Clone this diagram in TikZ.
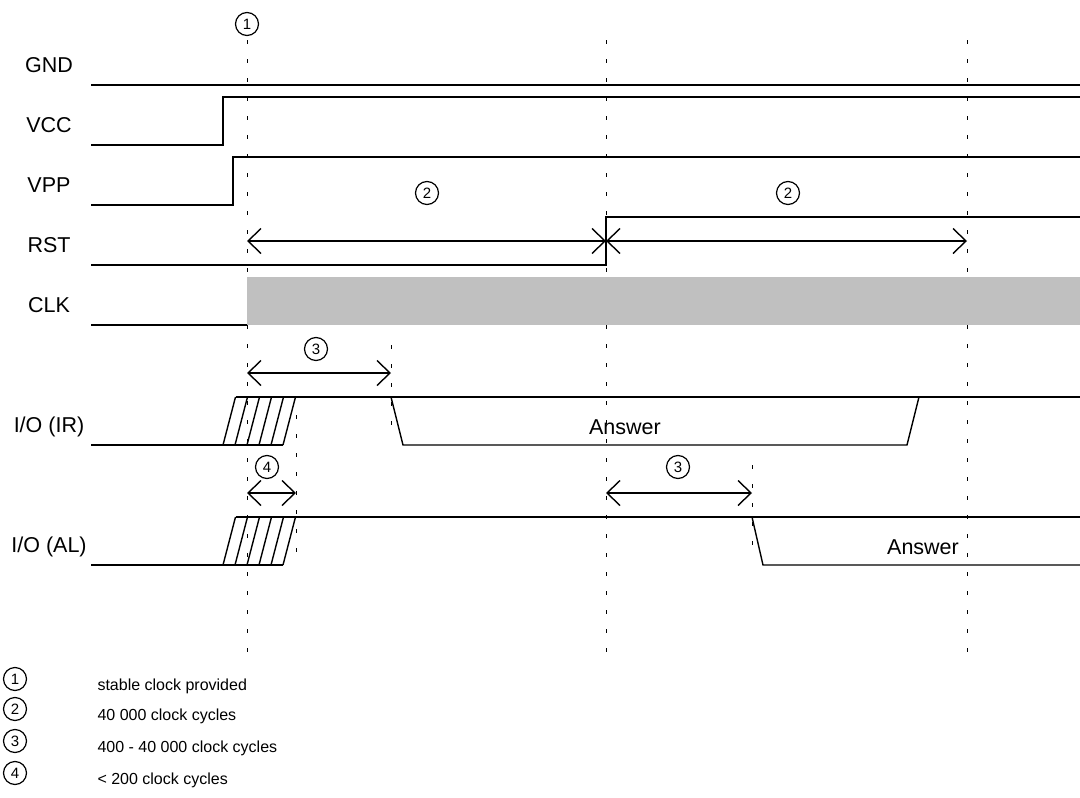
\documentclass[tikz,border=0pt]{standalone}
\usepackage{fontspec}
\setmainfont{Liberation Sans}
\usetikzlibrary{arrows.meta}
\definecolor{clkgray}{RGB}{192,192,192}
\tikzset{
  sig/.style={line width=1.4pt},
  guide/.style={line width=1pt,dash pattern=on 4pt off 15pt},
  span/.style={line width=1.4pt,{Straight Barb[length=13pt,width=25pt]}-{Straight Barb[length=13pt,width=25pt]}},
  lbl/.style={font=\fontsize{21.5}{25}\selectfont},
  num/.style={circle,draw,line width=1.2pt,minimum size=23pt,inner sep=0pt,font=\fontsize{15}{15}\selectfont},
  legtxt/.style={anchor=west,font=\fontsize{16}{20}\selectfont}
}
\begin{document}
\begin{tikzpicture}[x=1pt,y=-1pt]
  \useasboundingbox (0,0) rectangle (1080,798);
  \foreach \ty/\tn/\tk in {65/GND/gnd,125/VCC/vcc,185/VPP/vpp,245/RST/rst,305/CLK/clk,427/{I/O (IR)}/ir,547/{I/O (AL)}/al}
    \node[lbl] (l\tk) at (49,\ty) {\tn};
  \foreach \gx in {247,606,967} \draw[guide] (\gx,40) -- (\gx,655);
  \draw[guide] (391,345) -- (391,432);
  \draw[guide] (296,415) -- (296,556);
  \draw[guide] (752,465) -- (752,552);
  \fill[clkgray] (247,277) rectangle (1080,325);
  \draw[sig] (91,85) -- (1080,85);
  \draw[sig] (91,145) -- (223,145) -- (223,97) -- (1080,97);
  \draw[sig] (91,205) -- (233,205) -- (233,157) -- (1080,157);
  \draw[sig] (91,265) -- (606,265) -- (606,217) -- (1080,217);
  \draw[sig] (91,325) -- (247,325);
  \begin{scope}
    \draw[sig] (91,445) -- (283,445) (235.5,397) -- (1080,397);
    \foreach \k in {0,...,5} \draw[sig] (223+12*\k,445) -- (235.5+12*\k,397);
    \draw[sig] (391,397) -- (403,445) -- (907,445) -- (919,397);
    \node[lbl] (air) at (625,427) {Answer};
  \end{scope}
  \begin{scope}[yshift=-120pt]
    \draw[sig] (91,445) -- (283,445) (235.5,397) -- (1080,397);
    \foreach \k in {0,...,5} \draw[sig] (223+12*\k,445) -- (235.5+12*\k,397);
    \draw[sig] (752,397) -- (763,445) -- (1080,445);
    \node[lbl] (aal) at (923,427) {Answer};
  \end{scope}
  \coordinate (r0) at (247,241); \coordinate (r1) at (606,241); \coordinate (r2) at (967,241);
  \coordinate (p0) at (247,373); \coordinate (p1) at (391,373);
  \coordinate (q0) at (247,493); \coordinate (q1) at (296,493);
  \coordinate (s0) at (606,493); \coordinate (s1) at (752,493);
  \draw[span] (r0) -- (r1);
  \draw[span] (r1) -- (r2);
  \draw[span] (p0) -- (p1);
  \draw[span] (q0) -- (q1);
  \draw[span] (s0) -- (s1);
  \node[num] (n1) at (247,24) {1};
  \node[num] (n2a) at (427,193) {2};
  \node[num] (n2b) at (788,193) {2};
  \node[num] (n3a) at (316,349) {3};
  \node[num] (n3b) at (678,467) {3};
  \node[num] (n4) at (267,467) {4};
  \foreach \k/\ly/\lt in {1/686/stable clock provided,2/716/40 000 clock cycles,3/748/400 - 40 000 clock cycles,4/780/< 200 clock cycles}{
    \node[num] (k\k) at (15,\ly-7) {\k};
    \node[legtxt] (d\k) at (94,\ly) {\lt};
  }
\end{tikzpicture}
\end{document}
